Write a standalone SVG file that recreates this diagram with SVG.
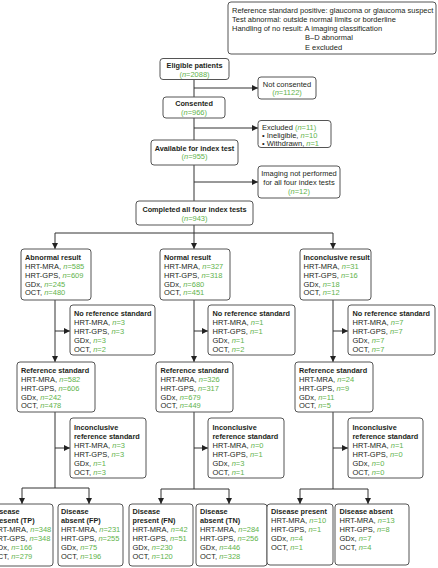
<svg xmlns="http://www.w3.org/2000/svg" width="438" height="568" viewBox="0 0 438 568">
<style>
text{font-family:"Liberation Sans",Arial,sans-serif;font-size:7.5px;fill:#231f20}
.b{font-weight:bold;font-size:7.3px}
.c{text-anchor:middle}
.g{fill:#62b34c}
.i{font-style:italic}
.box{fill:#fff;stroke:#555;stroke-width:1}
.conn path{fill:none;stroke:#333;stroke-width:1}
</style>
<defs>
<marker id="ah" markerWidth="6" markerHeight="6" refX="6" refY="3" orient="auto" markerUnits="userSpaceOnUse"><path d="M0,0 L6,3 L0,6 z" fill="#222"/></marker>
</defs>

<g id="connectors" class="conn">
<path d="M194,79 V97"/>
<path d="M194,88 H258" marker-end="url(#ah)"/>
<path d="M194,118 V140"/>
<path d="M194,128 H258" marker-end="url(#ah)"/>
<path d="M194,165 V201"/>
<path d="M194,182 H258" marker-end="url(#ah)"/>
<path d="M194,225 V249" marker-end="url(#ah)"/>
<path d="M55,233 H333"/>
<path d="M55,233 V249" marker-end="url(#ah)"/>
<path d="M333,233 V249" marker-end="url(#ah)"/>
<path d="M55,300 V362" marker-end="url(#ah)"/>
<path d="M55,331 H70" marker-end="url(#ah)"/>
<path d="M194,300 V362" marker-end="url(#ah)"/>
<path d="M194,331 H208" marker-end="url(#ah)"/>
<path d="M333,300 V362" marker-end="url(#ah)"/>
<path d="M333,331 H348" marker-end="url(#ah)"/>
<path d="M55,412 V488"/>
<path d="M55,448 H70" marker-end="url(#ah)"/>
<path d="M22,488 H89"/>
<path d="M22,488 V504" marker-end="url(#ah)"/>
<path d="M89,488 V504" marker-end="url(#ah)"/>
<path d="M194,412 V489"/>
<path d="M194,448 H208" marker-end="url(#ah)"/>
<path d="M161,489 H229"/>
<path d="M161,489 V504" marker-end="url(#ah)"/>
<path d="M229,489 V504" marker-end="url(#ah)"/>
<path d="M333,412 V489"/>
<path d="M333,448 H348" marker-end="url(#ah)"/>
<path d="M300,489 H368"/>
<path d="M300,489 V504" marker-end="url(#ah)"/>
<path d="M368,489 V504" marker-end="url(#ah)"/>
</g>

<g id="note">
<rect class="box" x="228" y="2" width="208" height="52" rx="3"/>
<text x="232" y="12.5">Reference standard positive: glaucoma or glaucoma suspect</text>
<text x="232" y="21.7">Test abnormal: outside normal limits or borderline</text>
<text x="232" y="31">Handling of no result: A imaging classification</text>
<text x="305" y="40.3">B–D abnormal</text>
<text x="305" y="49.5">E excluded</text>
</g>

<g id="eligible">
<rect class="box" x="160" y="58.5" width="69" height="21" rx="3"/>
<text class="b c" x="194.5" y="67.7">Eligible patients</text>
<text class="c g" x="194.5" y="76.7">(<tspan class="i">n</tspan>=2088)</text>
</g>

<g id="not-consented">
<rect class="box" x="258" y="77" width="58" height="22" rx="3"/>
<text class="c" x="287" y="86.7">Not consented</text>
<text class="c g" x="287" y="95.4">(<tspan class="i">n</tspan>=1122)</text>
</g>

<g id="consented">
<rect class="box" x="163" y="97" width="62" height="21" rx="3"/>
<text class="b c" x="194" y="106">Consented</text>
<text class="c g" x="194" y="115">(<tspan class="i">n</tspan>=966)</text>
</g>

<g id="excluded">
<rect class="box" x="258" y="120.5" width="73" height="27" rx="3"/>
<text x="262" y="129.5">Excluded <tspan class="g">(<tspan class="i">n</tspan>=11)</tspan></text>
<text x="262" y="137.6">• Ineligible, <tspan class="g"><tspan class="i">n</tspan>=10</tspan></text>
<text x="262" y="145.6">• Withdrawn, <tspan class="g"><tspan class="i">n</tspan>=1</tspan></text>
</g>

<g id="available">
<rect class="box" x="151" y="140" width="87" height="25" rx="3"/>
<text class="b c" x="194.5" y="151">Available for index test</text>
<text class="c g" x="194.5" y="159.4">(<tspan class="i">n</tspan>=955)</text>
</g>

<g id="imaging-not-performed">
<rect class="box" x="258" y="166" width="82" height="32" rx="3"/>
<text class="c" x="299" y="176">Imaging not performed</text>
<text class="c" x="299" y="185">for all four index tests</text>
<text class="c g" x="299" y="193.7">(<tspan class="i">n</tspan>=12)</text>
</g>

<g id="completed">
<rect class="box" x="136" y="201" width="117" height="24" rx="3"/>
<text class="b c" x="194.5" y="212">Completed all four index tests</text>
<text class="c g" x="194.5" y="221.4">(<tspan class="i">n</tspan>=943)</text>
</g>

<g id="abnormal">
<rect class="box" x="21" y="249" width="70" height="51" rx="3"/>
<text class="b" x="25" y="260.4">Abnormal result</text>
<text x="25" y="269">HRT-MRA, <tspan class="g"><tspan class="i">n</tspan>=585</tspan></text>
<text x="25" y="277.7">HRT-GPS, <tspan class="g"><tspan class="i">n</tspan>=609</tspan></text>
<text x="25" y="286.5">GDx, <tspan class="g"><tspan class="i">n</tspan>=245</tspan></text>
<text x="25" y="295.3">OCT, <tspan class="g"><tspan class="i">n</tspan>=480</tspan></text>
</g>

<g id="normal">
<rect class="box" x="160" y="249" width="70" height="51" rx="3"/>
<text class="b" x="164" y="260.4">Normal result</text>
<text x="164" y="269">HRT-MRA, <tspan class="g"><tspan class="i">n</tspan>=327</tspan></text>
<text x="164" y="277.7">HRT-GPS, <tspan class="g"><tspan class="i">n</tspan>=318</tspan></text>
<text x="164" y="286.5">GDx, <tspan class="g"><tspan class="i">n</tspan>=680</tspan></text>
<text x="164" y="295.3">OCT, <tspan class="g"><tspan class="i">n</tspan>=451</tspan></text>
</g>

<g id="inconclusive">
<rect class="box" x="300" y="249" width="71" height="51" rx="3"/>
<text class="b" x="303.5" y="260.4">Inconclusive result</text>
<text x="303.5" y="269">HRT-MRA, <tspan class="g"><tspan class="i">n</tspan>=31</tspan></text>
<text x="303.5" y="277.7">HRT-GPS, <tspan class="g"><tspan class="i">n</tspan>=16</tspan></text>
<text x="303.5" y="286.5">GDx, <tspan class="g"><tspan class="i">n</tspan>=18</tspan></text>
<text x="303.5" y="295.3">OCT, <tspan class="g"><tspan class="i">n</tspan>=12</tspan></text>
</g>

<g id="noref-abnormal">
<rect class="box" x="70" y="305" width="85" height="50" rx="3"/>
<text class="b" x="74" y="315.5">No reference standard</text>
<text x="74" y="324.5">HRT-MRA, <tspan class="g"><tspan class="i">n</tspan>=3</tspan></text>
<text x="74" y="333.5">HRT-GPS, <tspan class="g"><tspan class="i">n</tspan>=3</tspan></text>
<text x="74" y="342.5">GDx, <tspan class="g"><tspan class="i">n</tspan>=3</tspan></text>
<text x="74" y="351.5">OCT, <tspan class="g"><tspan class="i">n</tspan>=2</tspan></text>
</g>

<g id="noref-normal">
<rect class="box" x="208" y="305" width="87" height="50" rx="3"/>
<text class="b" x="212.5" y="315.5">No reference standard</text>
<text x="212.5" y="324.5">HRT-MRA, <tspan class="g"><tspan class="i">n</tspan>=1</tspan></text>
<text x="212.5" y="333.5">HRT-GPS, <tspan class="g"><tspan class="i">n</tspan>=1</tspan></text>
<text x="212.5" y="342.5">GDx, <tspan class="g"><tspan class="i">n</tspan>=1</tspan></text>
<text x="212.5" y="351.5">OCT, <tspan class="g"><tspan class="i">n</tspan>=2</tspan></text>
</g>

<g id="noref-inconclusive">
<rect class="box" x="348" y="305" width="87" height="50" rx="3"/>
<text class="b" x="352.5" y="315.5">No reference standard</text>
<text x="352.5" y="324.5">HRT-MRA, <tspan class="g"><tspan class="i">n</tspan>=7</tspan></text>
<text x="352.5" y="333.5">HRT-GPS, <tspan class="g"><tspan class="i">n</tspan>=7</tspan></text>
<text x="352.5" y="342.5">GDx, <tspan class="g"><tspan class="i">n</tspan>=7</tspan></text>
<text x="352.5" y="351.5">OCT, <tspan class="g"><tspan class="i">n</tspan>=7</tspan></text>
</g>

<g id="ref-abnormal">
<rect class="box" x="17" y="362" width="78" height="50" rx="3"/>
<text class="b" x="21" y="372.7">Reference standard</text>
<text x="21" y="381.7">HRT-MRA, <tspan class="g"><tspan class="i">n</tspan>=582</tspan></text>
<text x="21" y="390.6">HRT-GPS, <tspan class="g"><tspan class="i">n</tspan>=606</tspan></text>
<text x="21" y="399.5">GDx, <tspan class="g"><tspan class="i">n</tspan>=242</tspan></text>
<text x="21" y="408.4">OCT, <tspan class="g"><tspan class="i">n</tspan>=478</tspan></text>
</g>

<g id="ref-normal">
<rect class="box" x="156" y="362" width="77" height="50" rx="3"/>
<text class="b" x="160.5" y="372.7">Reference standard</text>
<text x="160.5" y="381.7">HRT-MRA, <tspan class="g"><tspan class="i">n</tspan>=326</tspan></text>
<text x="160.5" y="390.6">HRT-GPS, <tspan class="g"><tspan class="i">n</tspan>=317</tspan></text>
<text x="160.5" y="399.5">GDx, <tspan class="g"><tspan class="i">n</tspan>=679</tspan></text>
<text x="160.5" y="408.4">OCT, <tspan class="g"><tspan class="i">n</tspan>=449</tspan></text>
</g>

<g id="ref-inconclusive">
<rect class="box" x="295" y="362" width="78" height="50" rx="3"/>
<text class="b" x="299" y="372.7">Reference standard</text>
<text x="299" y="381.7">HRT-MRA, <tspan class="g"><tspan class="i">n</tspan>=24</tspan></text>
<text x="299" y="390.6">HRT-GPS, <tspan class="g"><tspan class="i">n</tspan>=9</tspan></text>
<text x="299" y="399.5">GDx, <tspan class="g"><tspan class="i">n</tspan>=11</tspan></text>
<text x="299" y="408.4">OCT, <tspan class="g"><tspan class="i">n</tspan>=5</tspan></text>
</g>

<g id="inconcref-abnormal">
<rect class="box" x="70" y="418" width="76" height="60" rx="3"/>
<text class="b" x="74" y="429.5">Inconclusive</text>
<text class="b" x="74" y="438.5">reference standard</text>
<text x="74" y="447.5">HRT-MRA, <tspan class="g"><tspan class="i">n</tspan>=3</tspan></text>
<text x="74" y="456.5">HRT-GPS, <tspan class="g"><tspan class="i">n</tspan>=3</tspan></text>
<text x="74" y="465.5">GDx, <tspan class="g"><tspan class="i">n</tspan>=1</tspan></text>
<text x="74" y="474.5">OCT, <tspan class="g"><tspan class="i">n</tspan>=3</tspan></text>
</g>

<g id="inconcref-normal">
<rect class="box" x="208" y="418" width="76" height="60" rx="3"/>
<text class="b" x="212.5" y="429.5">Inconclusive</text>
<text class="b" x="212.5" y="438.5">reference standard</text>
<text x="212.5" y="447.5">HRT-MRA, <tspan class="g"><tspan class="i">n</tspan>=0</tspan></text>
<text x="212.5" y="456.5">HRT-GPS, <tspan class="g"><tspan class="i">n</tspan>=1</tspan></text>
<text x="212.5" y="465.5">GDx, <tspan class="g"><tspan class="i">n</tspan>=3</tspan></text>
<text x="212.5" y="474.5">OCT, <tspan class="g"><tspan class="i">n</tspan>=1</tspan></text>
</g>

<g id="inconcref-inconclusive">
<rect class="box" x="348" y="418" width="75" height="60" rx="3"/>
<text class="b" x="352.5" y="429.5">Inconclusive</text>
<text class="b" x="352.5" y="438.5">reference standard</text>
<text x="352.5" y="447.5">HRT-MRA, <tspan class="g"><tspan class="i">n</tspan>=1</tspan></text>
<text x="352.5" y="456.5">HRT-GPS, <tspan class="g"><tspan class="i">n</tspan>=0</tspan></text>
<text x="352.5" y="465.5">GDx, <tspan class="g"><tspan class="i">n</tspan>=0</tspan></text>
<text x="352.5" y="474.5">OCT, <tspan class="g"><tspan class="i">n</tspan>=0</tspan></text>
</g>

<g id="tp">
<rect class="box" x="-12" y="504" width="65" height="62" rx="3"/>
<text class="b" x="-8" y="514.4">Disease</text>
<text class="b" x="-8" y="523.4">present (TP)</text>
<text x="-8" y="532.4">HRT-MRA, <tspan class="g"><tspan class="i">n</tspan>=348</tspan></text>
<text x="-8" y="541.4">HRT-GPS, <tspan class="g"><tspan class="i">n</tspan>=348</tspan></text>
<text x="-8" y="550.4">GDx, <tspan class="g"><tspan class="i">n</tspan>=166</tspan></text>
<text x="-8" y="559.4">OCT, <tspan class="g"><tspan class="i">n</tspan>=279</tspan></text>
</g>

<g id="fp">
<rect class="box" x="58" y="504" width="65" height="62" rx="3"/>
<text class="b" x="61" y="514.4">Disease</text>
<text class="b" x="61" y="523.4">absent (FP)</text>
<text x="61" y="532.4">HRT-MRA, <tspan class="g"><tspan class="i">n</tspan>=231</tspan></text>
<text x="61" y="541.4">HRT-GPS, <tspan class="g"><tspan class="i">n</tspan>=255</tspan></text>
<text x="61" y="550.4">GDx, <tspan class="g"><tspan class="i">n</tspan>=75</tspan></text>
<text x="61" y="559.4">OCT, <tspan class="g"><tspan class="i">n</tspan>=196</tspan></text>
</g>

<g id="fn">
<rect class="box" x="129" y="504" width="64" height="62" rx="3"/>
<text class="b" x="132.5" y="514.4">Disease</text>
<text class="b" x="132.5" y="523.4">present (FN)</text>
<text x="132.5" y="532.4">HRT-MRA, <tspan class="g"><tspan class="i">n</tspan>=42</tspan></text>
<text x="132.5" y="541.4">HRT-GPS, <tspan class="g"><tspan class="i">n</tspan>=51</tspan></text>
<text x="132.5" y="550.4">GDx, <tspan class="g"><tspan class="i">n</tspan>=230</tspan></text>
<text x="132.5" y="559.4">OCT, <tspan class="g"><tspan class="i">n</tspan>=120</tspan></text>
</g>

<g id="tn">
<rect class="box" x="196" y="504" width="71" height="62" rx="3"/>
<text class="b" x="200" y="514.4">Disease</text>
<text class="b" x="200" y="523.4">absent (TN)</text>
<text x="200" y="532.4">HRT-MRA, <tspan class="g"><tspan class="i">n</tspan>=284</tspan></text>
<text x="200" y="541.4">HRT-GPS, <tspan class="g"><tspan class="i">n</tspan>=256</tspan></text>
<text x="200" y="550.4">GDx, <tspan class="g"><tspan class="i">n</tspan>=446</tspan></text>
<text x="200" y="559.4">OCT, <tspan class="g"><tspan class="i">n</tspan>=328</tspan></text>
</g>

<g id="inc-present">
<rect class="box" x="267" y="504" width="66" height="61" rx="3"/>
<text class="b" x="271" y="514.4">Disease present</text>
<text x="271" y="523.4">HRT-MRA, <tspan class="g"><tspan class="i">n</tspan>=10</tspan></text>
<text x="271" y="532.2">HRT-GPS, <tspan class="g"><tspan class="i">n</tspan>=1</tspan></text>
<text x="271" y="541.2">GDx, <tspan class="g"><tspan class="i">n</tspan>=4</tspan></text>
<text x="271" y="550.2">OCT, <tspan class="g"><tspan class="i">n</tspan>=1</tspan></text>
</g>

<g id="inc-absent">
<rect class="box" x="335" y="504" width="74" height="61" rx="3"/>
<text class="b" x="339.5" y="514.4">Disease absent</text>
<text x="339.5" y="523.4">HRT-MRA, <tspan class="g"><tspan class="i">n</tspan>=13</tspan></text>
<text x="339.5" y="532.2">HRT-GPS, <tspan class="g"><tspan class="i">n</tspan>=8</tspan></text>
<text x="339.5" y="541.2">GDx, <tspan class="g"><tspan class="i">n</tspan>=7</tspan></text>
<text x="339.5" y="550.2">OCT, <tspan class="g"><tspan class="i">n</tspan>=4</tspan></text>
</g>
</svg>
